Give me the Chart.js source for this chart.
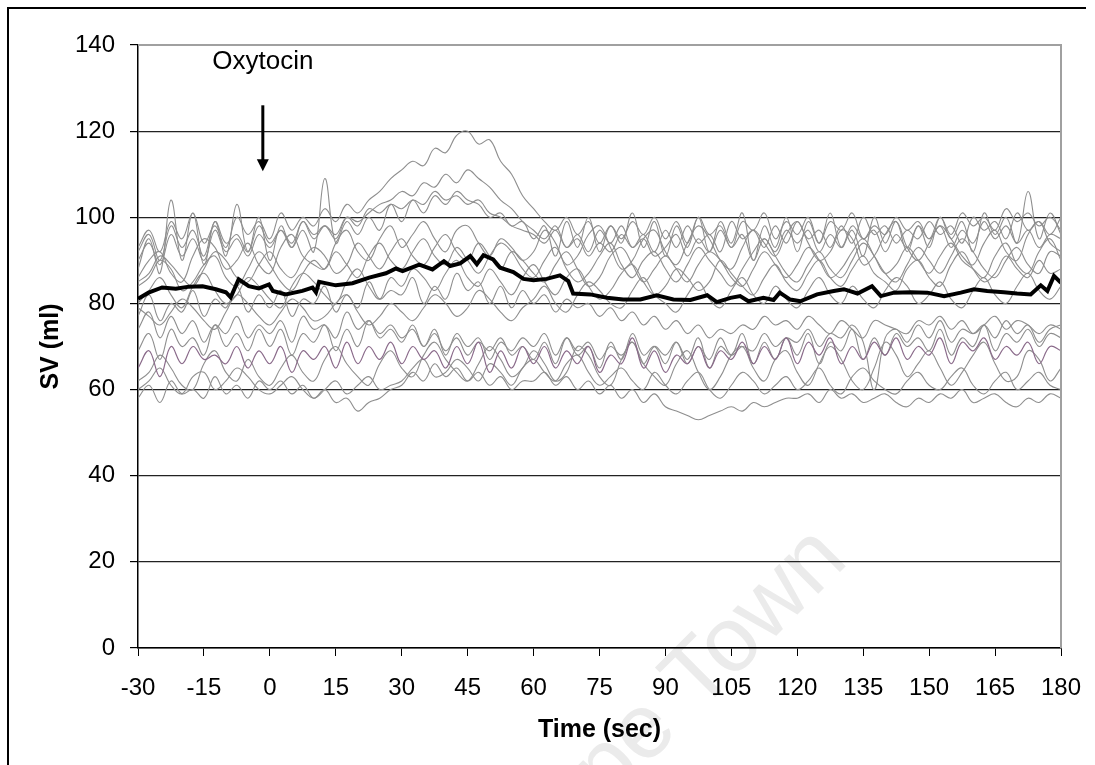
<!DOCTYPE html>
<html>
<head>
<meta charset="utf-8">
<script src="https://cdn.jsdelivr.net/npm/chart.js@4/dist/chart.umd.min.js"></script>
<style>
  html, body { margin: 0; padding: 0; background: #fff; overflow: hidden; }
  #box { position: relative; width: 1095px; height: 765px; }
</style>
</head>
<body>
<div id="box"><canvas id="graficoSV"></canvas></div>
<script>
// time axis (sec), one value every 2.5 s for the individual traces
const timeGrid = [
  -30, -27.5, -25, -22.5, -20, -17.5, -15, -12.5, -10, -7.5, -5, -2.5,
  0, 2.5, 5, 7.5, 10, 12.5, 15, 17.5, 20, 22.5, 25, 27.5,
  30, 32.5, 35, 37.5, 40, 42.5, 45, 47.5, 50, 52.5, 55, 57.5,
  60, 62.5, 65, 67.5, 70, 72.5, 75, 77.5, 80, 82.5, 85, 87.5,
  90, 92.5, 95, 97.5, 100, 102.5, 105, 107.5, 110, 112.5, 115, 117.5,
  120, 122.5, 125, 127.5, 130, 132.5, 135, 137.5, 140, 142.5, 145, 147.5,
  150, 152.5, 155, 157.5, 160, 162.5, 165, 167.5, 170, 172.5, 175, 177.5,
  180
];

// individual patients, SV (ml)
const sv01 = [
  93, 97, 92, 99, 95, 101, 94, 98, 93, 100, 96, 99,
  95, 101, 97, 100, 98, 102, 99, 103, 101, 104, 106, 109,
  111, 113, 112, 116, 115, 119, 120, 117, 118, 113, 110, 105,
  102, 99, 97, 100, 96, 99, 94, 98, 95, 99, 96, 100,
  95, 99, 94, 100, 96, 98, 93, 99, 97, 101, 95, 99,
  96, 100, 94, 99, 97, 101, 95, 98, 96, 100, 97, 99,
  95, 100, 96, 101, 98, 100, 97, 102, 99, 101, 98, 100,
  97
];
const sv02 = [
  90, 94, 89, 96, 91, 95, 90, 97, 92, 95, 91, 96,
  93, 97, 94, 99, 96, 98, 95, 100, 99, 101, 103, 104,
  106, 105, 108, 107, 110, 108, 111, 109, 107, 104, 102, 99,
  97, 95, 98, 93, 96, 92, 97, 94, 98, 93, 96, 92,
  97, 93, 98, 94, 96, 92, 99, 95, 97, 93, 98, 94,
  99, 95, 97, 93, 98, 94, 100, 96, 98, 94, 97, 95,
  99, 96, 98, 94, 100, 97, 99, 95, 101, 97, 99, 96,
  100
];
const sv03 = [
  88, 95, 87, 104, 90, 101, 89, 99, 91, 103, 92, 100,
  90, 98, 93, 97, 92, 109, 94, 99, 96, 100, 97, 103,
  99, 104, 101, 105, 103, 106, 104, 103, 100, 101, 98, 99,
  95, 98, 91, 99, 93, 100, 92, 98, 94, 101, 93, 99,
  91, 98, 93, 100, 92, 99, 94, 101, 90, 98, 93, 100,
  92, 99, 94, 101, 93, 97, 91, 100, 94, 99, 92, 98,
  93, 100, 95, 99, 92, 101, 96, 100, 94, 106, 95, 101,
  96
];
const sv04 = [
  86, 90, 92, 87, 85, 91, 95, 93, 88, 90, 94, 89,
  87, 93, 96, 91, 89, 88, 94, 97, 92, 90, 95, 98,
  93, 96, 99, 95, 92, 97, 98, 94, 91, 95, 93, 90,
  92, 97, 94, 89, 91, 96, 98, 93, 88, 90, 95, 97,
  92, 89, 94, 98, 95, 90, 88, 93, 97, 94, 91, 96,
  99, 94, 90, 92, 97, 95, 89, 91, 96, 99, 93, 90,
  94, 98, 95, 91, 89, 94, 97, 92, 90, 96, 99, 94,
  92
];
const sv05 = [
  84, 86, 90, 88, 83, 85, 89, 91, 86, 84, 88, 92,
  89, 85, 83, 87, 90, 88, 92, 89, 86, 91, 94, 90,
  88, 92, 95, 91, 89, 93, 90, 87, 91, 94, 92, 88,
  86, 90, 93, 88, 85, 87, 91, 94, 89, 86, 90, 92,
  88, 85, 89, 93, 90, 87, 84, 88, 92, 95, 91, 87,
  85, 89, 92, 88, 86, 90, 94, 91, 87, 85, 89, 93,
  90, 87, 91, 95, 92, 88, 86, 90, 93, 89, 87, 92,
  91
];
const sv06 = [
  80, 83, 86, 82, 79, 84, 87, 83, 80, 82, 86, 84,
  81, 79, 84, 87, 85, 82, 80, 85, 88, 84, 81, 86,
  84, 88, 86, 83, 87, 90, 86, 84, 88, 85, 82, 86,
  89, 85, 82, 86, 88, 84, 81, 83, 87, 89, 85, 82,
  84, 88, 86, 83, 85, 90, 87, 84, 82, 86, 89, 85,
  83, 87, 90, 86, 84, 88, 91, 87, 85, 83, 88, 90,
  86, 84, 89, 92, 88, 85, 87, 91, 88, 86, 90, 87,
  88
];
const sv07 = [
  77, 82, 76, 80, 78, 83, 77, 81, 79, 84, 78, 82,
  79, 83, 77, 81, 80, 84, 78, 82, 79, 85, 81, 83,
  82, 86, 80, 84, 81, 87, 83, 85, 80, 84, 79, 83,
  80, 82, 78, 81, 79, 80, 77, 79, 76, 78, 75, 77,
  74, 76, 73, 75, 72, 74, 73, 75, 74, 77, 75, 76,
  74, 77, 75, 73, 76, 74, 72, 76, 75, 74, 73, 76,
  75, 77, 74, 76, 73, 75, 77, 74, 76, 75, 73, 75,
  74
];
const sv08 = [
  74, 78, 72, 77, 73, 76, 71, 75, 73, 77, 72, 75,
  73, 76, 71, 77, 74, 75, 72, 78, 74, 76, 73, 75,
  72, 74, 70, 73, 69, 72, 68, 71, 69, 72, 68, 70,
  67, 71, 66, 72, 68, 70, 65, 71, 67, 73, 68, 70,
  66, 71, 67, 72, 65, 70, 68, 73, 66, 71, 67, 72,
  68, 73, 66, 71, 69, 74, 67, 72, 68, 73, 70, 72,
  69, 74, 68, 72, 70, 75, 69, 73, 71, 74, 70, 73,
  72
];
const sv09 = [
  62, 64, 68, 65, 61, 60, 66, 69, 64, 62, 67, 63,
  61, 65, 68, 64, 62, 67, 70, 66, 63, 61, 66, 69,
  65, 63, 68, 71, 67, 64, 62, 66, 70, 67, 63, 65,
  69, 66, 62, 64, 70, 68, 63, 61, 67, 71, 66, 63,
  61, 66, 69, 64, 60, 63, 68, 70, 65, 62, 67, 69,
  64, 61, 66, 70, 67, 62, 60, 65, 71, 68, 63, 66,
  69, 65, 61, 64, 68, 71, 66, 62, 63, 69, 67, 62,
  65
];
const sv10 = [
  58, 61, 57, 62, 59, 60, 58, 63, 59, 61, 58, 62,
  60, 62, 59, 61, 58, 60, 57, 58, 55, 57, 58, 60,
  61, 64, 62, 66, 63, 65, 62, 64, 61, 63, 60, 62,
  62, 64, 61, 63, 60, 62, 59, 61, 58, 60, 57, 59,
  56, 55, 54, 53, 54, 55, 56, 55, 57, 56, 57, 58,
  58, 59, 57, 60, 58, 59, 57, 58, 59, 57, 56, 58,
  57, 59, 58, 60, 57, 58, 59, 57, 56, 58, 57, 59,
  58
];
const sv11 = [
  60, 62, 65, 61, 59, 63, 64, 60, 62, 65, 63, 60,
  59, 61, 63, 60, 58, 60, 62, 59, 61, 63, 60, 61,
  62, 65, 67, 63, 64, 67, 65, 62, 66, 64, 61, 65,
  67, 64, 62, 66, 68, 64, 61, 63, 65, 62, 60, 64,
  61, 59, 62, 64, 60, 58, 61, 64, 62, 59, 61, 63,
  60, 62, 65, 61, 59, 63, 65, 62, 60, 59, 62, 64,
  61, 60, 63, 65, 61, 59, 62, 64, 60, 62, 64, 61,
  60
];
const sv12 = [
  69, 73, 67, 74, 70, 72, 68, 75, 70, 73, 69, 74,
  70, 74, 68, 73, 71, 75, 69, 74, 70, 76, 72, 74,
  71, 75, 70, 74, 68, 73, 70, 72, 67, 71, 69, 72,
  70, 73, 68, 72, 69, 71, 67, 70, 68, 71, 66, 70,
  68, 71, 66, 70, 67, 72, 68, 70, 69, 73, 70, 72,
  71, 74, 70, 73, 72, 75, 71, 60, 72, 74, 71, 75,
  72, 76, 71, 74, 73, 75, 72, 76, 73, 75, 71, 74,
  75
];
const sv13 = [
  92, 96, 90, 98, 93, 97, 91, 99, 94, 96, 92, 98,
  94, 97, 93, 99, 95, 98, 96, 100, 98, 102, 101, 103,
  102, 104, 103, 106, 104, 105, 103, 104, 101, 100, 98, 97,
  96, 94, 97, 93, 95, 91, 94, 92, 96, 93, 95, 91,
  93, 96, 91, 95, 92, 97, 93, 96, 90, 95, 92, 97,
  94, 97, 92, 96, 93, 98, 95, 97, 92, 96, 93, 98,
  95, 98, 93, 97, 94, 99, 95, 98, 94, 97, 93, 96,
  95
];
const sv14 = [
  85, 87, 91, 89, 86, 84, 88, 92, 90, 86, 85, 89,
  92, 88, 86, 90, 93, 91, 87, 89, 94, 91, 88, 92,
  95, 91, 89, 93, 96, 92, 90, 94, 91, 88, 92, 90,
  87, 85, 89, 92, 88, 84, 86, 91, 93, 89, 85, 88,
  91, 88, 85, 89, 92, 90, 86, 84, 88, 92, 89, 86,
  89, 93, 90, 86, 88, 92, 95, 91, 87, 89, 93, 90,
  87, 91, 94, 90, 88, 86, 91, 94, 89, 87, 92, 95,
  90
];
const sv15 = [
  79, 77, 75, 78, 81, 79, 76, 74, 78, 82, 80, 77,
  75, 78, 81, 79, 76, 77, 80, 82, 78, 75, 77, 80,
  78, 76, 79, 82, 80, 77, 79, 83, 81, 78, 76, 79,
  81, 84, 80, 78, 82, 85, 83, 80, 79, 83, 86, 82,
  80, 78, 82, 85, 81, 79, 83, 86, 82, 80, 84, 81,
  79, 83, 86, 82, 80, 84, 81, 79, 83, 86, 84, 80,
  82, 85, 81, 79, 83, 86, 82, 80, 84, 87, 83, 81,
  84
];
// the one trace drawn in purple
const svPurple = [
  65, 69, 63, 70, 66, 70, 67, 68, 66, 70, 65, 69,
  66, 70, 64, 69, 67, 70, 65, 71, 66, 70, 67, 71,
  66, 70, 67, 69, 65, 70, 66, 71, 64, 69, 65, 70,
  66, 70, 65, 69, 66, 70, 64, 68, 66, 72, 65, 69,
  64, 68, 66, 70, 65, 69, 67, 71, 66, 70, 67, 72,
  66, 71, 68, 72, 66, 70, 67, 71, 68, 72, 67, 70,
  68, 72, 66, 71, 69, 72, 67, 70, 68, 71, 66, 70,
  69
];

// mean trace (thick black line)
const meanTime = [
  -30, -27.6, -24.5, -21.4, -18.4, -15.3, -12.3, -10, -8.9, -7.1, -4.8, -2.5,
  -0.2, 0.7, 3.6, 7.4, 9.7, 10.5, 11.2, 15, 18.8, 22.6, 26.4, 28.7,
  30.2, 34, 37, 39.6, 41, 43.3, 45.6, 47.1, 48.6, 50.8, 52.4, 55.4,
  57.7, 60, 63, 66, 67.9, 69, 72.9, 76.7, 80.4, 84.3, 88, 91.8,
  95.7, 99.5, 101.7, 104.8, 107, 108.9, 112.3, 114.6, 116, 118.4, 120.7, 124.5,
  128.3, 130.6, 133.7, 137, 139, 142, 145.8, 149.6, 153.4, 157.2, 160.2, 163.2,
  167, 170, 173.1, 175.4, 176.9, 178.4, 180
];
const meanSV = [
  81.1, 82.5, 83.7, 83.4, 83.9, 84.0, 83.3, 82.6, 81.4, 85.6, 84.0, 83.5,
  84.4, 82.9, 82.1, 82.9, 83.7, 82.6, 85.0, 84.2, 84.7, 86.0, 87.0, 88.1,
  87.5, 89.0, 87.9, 89.8, 88.7, 89.3, 91.0, 89.1, 91.2, 90.2, 88.3, 87.3,
  85.7, 85.4, 85.7, 86.5, 85.2, 82.3, 82.1, 81.3, 80.9, 80.9, 81.9, 80.9,
  80.8, 81.9, 80.3, 81.3, 81.7, 80.5, 81.3, 80.8, 82.5, 80.9, 80.5, 82.1,
  82.9, 83.3, 82.3, 84.0, 81.7, 82.5, 82.6, 82.5, 81.7, 82.5, 83.3, 82.9,
  82.6, 82.3, 82.1, 84.2, 82.9, 86.4, 84.8
];

const yTicks = [0, 20, 40, 60, 80, 100, 120, 140];
const xTickStep = 15;

const cinzas = [sv01, sv02, sv03, sv04, sv05, sv06, sv07, sv08, sv09, sv10, sv11, sv12, sv13, sv14, sv15];

function pontos(xs, ys) {
  return xs.map((x, i) => ({ x: x, y: ys[i] }));
}

const fonte = "'Liberation Sans', Arial, sans-serif";

let datasets = [];
// first dataset is drawn on top in Chart.js
datasets.push({
  label: 'Mean',
  data: pontos(meanTime, meanSV),
  borderColor: '#000',
  borderWidth: 4,
  pointRadius: 0,
  tension: 0
});
datasets.push({
  label: 'P',
  data: pontos(timeGrid, svPurple),
  borderColor: '#8a6a8a',
  borderWidth: 1.2,
  pointRadius: 0,
  tension: 0.4
});
cinzas.forEach((s, i) => {
  datasets.push({
    label: 'S' + (i + 1),
    data: pontos(timeGrid, s),
    borderColor: '#8e8e8e',
    borderWidth: 1.1,
    pointRadius: 0,
    tension: 0.4
  });
});

const extras = {
  id: 'extras',
  beforeDraw(chart) {
    const ctx = chart.ctx;
    // watermark
    ctx.save();
    ctx.translate(850, 562);
    ctx.rotate(-45 * Math.PI / 180);
    ctx.font = '92px ' + fonte;
    ctx.fillStyle = '#ebebeb';
    ctx.textAlign = 'right';
    ctx.textBaseline = 'alphabetic';
    ctx.fillText('University of Cape Town', 0, 0);
    ctx.restore();
  },
  afterDraw(chart) {
    const ctx = chart.ctx;
    const a = chart.chartArea;
    const x = chart.scales.x, y = chart.scales.y;
    ctx.save();
    // outer frame (top and left)
    ctx.fillStyle = '#000';
    ctx.fillRect(7, 7, 1079, 2);
    ctx.fillRect(7, 7, 2, 765);
    // plot area border, top and right in grey
    ctx.strokeStyle = '#a0a0a0';
    ctx.lineWidth = 2;
    ctx.beginPath();
    ctx.moveTo(a.left, a.top);
    ctx.lineTo(a.right, a.top);
    ctx.lineTo(a.right, a.bottom);
    ctx.stroke();
    // arrow
    const ax = x.getPixelForValue(-1.6);
    const yTop = y.getPixelForValue(126);
    const yBase = y.getPixelForValue(113.5);
    const yTip = y.getPixelForValue(110.7);
    ctx.strokeStyle = '#000';
    ctx.lineWidth = 3;
    ctx.beginPath();
    ctx.moveTo(ax, yTop);
    ctx.lineTo(ax, yBase + 1);
    ctx.stroke();
    ctx.fillStyle = '#000';
    ctx.beginPath();
    ctx.moveTo(ax - 6, yBase);
    ctx.lineTo(ax + 6, yBase);
    ctx.lineTo(ax, yTip);
    ctx.closePath();
    ctx.fill();
    // label
    ctx.font = '26px ' + fonte;
    ctx.textAlign = 'center';
    ctx.textBaseline = 'middle';
    ctx.fillText('Oxytocin', ax, y.getPixelForValue(136));
    ctx.restore();
  }
};

const ctx = document.getElementById('graficoSV').getContext('2d');
const grafico = new Chart(ctx, {
  type: 'line',
  data: { datasets: datasets },
  options: {
    responsive: true,
    maintainAspectRatio: false,
    animation: false,
    events: [],
    layout: { padding: { top: 45, right: 34, left: 0, bottom: 0 } },
    plugins: {
      legend: { display: false },
      tooltip: { enabled: false }
    },
    scales: {
      x: {
        type: 'linear',
        min: -30,
        max: 180,
        afterFit: (s) => { s.height = 117; s.paddingLeft = 0; s.paddingRight = 20; },
        ticks: {
          stepSize: xTickStep,
          color: '#000',
          padding: 18,
          maxRotation: 0,
          font: { family: fonte, size: 24 }
        },
        grid: { drawOnChartArea: false, drawTicks: true, tickLength: 8, color: '#000' },
        border: { color: '#000', width: 1.5 },
        title: {
          display: true,
          text: 'Time (sec)',
          color: '#000',
          font: { family: fonte, size: 25, weight: 'bold' },
          padding: { top: 0, bottom: 20 }
        }
      },
      y: {
        min: 0,
        max: 140,
        afterFit: (s) => { s.width = 138; },
        afterBuildTicks: (s) => { s.ticks = yTicks.map(v => ({ value: v })); },
        ticks: {
          color: '#000',
          padding: 15,
          font: { family: fonte, size: 24 }
        },
        grid: {
          color: (c) => (c.tick && c.tick.value === 140 ? 'rgba(0,0,0,0)' : '#222'),
          tickColor: '#000',
          tickLength: 8,
          lineWidth: 1.2
        },
        border: { color: '#000', width: 1.5 },
        title: {
          display: true,
          text: 'SV (ml)',
          color: '#000',
          font: { family: fonte, size: 25, weight: 'bold' },
          padding: { top: 36, bottom: 0 }
        }
      }
    }
  },
  plugins: [extras]
});
</script>
</body>
</html>
